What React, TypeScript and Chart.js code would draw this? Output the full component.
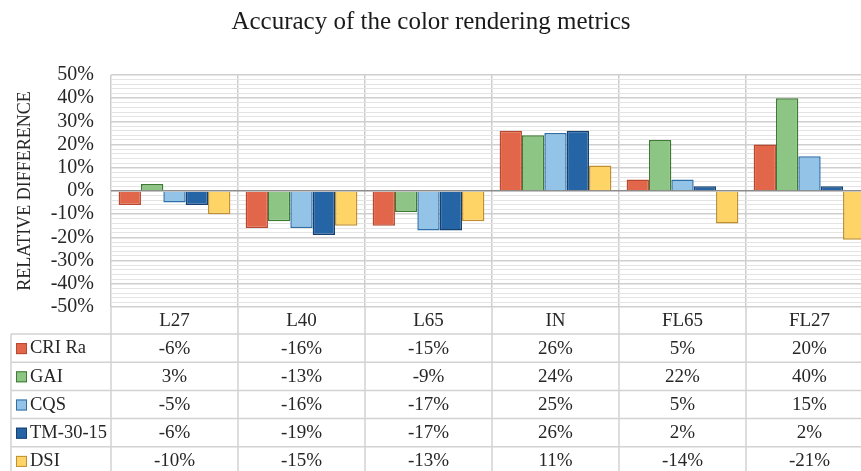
import React, { useEffect, useRef } from "react";
import { Chart, registerables } from "chart.js";

Chart.register(...registerables);

const TITLE = "Accuracy of the color rendering metrics";
const Y_TITLE = "RELATIVE DIFFERENCE";
const CATEGORIES = ["L27", "L40", "L65", "IN", "FL65", "FL27"];
const SERIES_NAMES = ["CRI Ra", "GAI", "CQS", "TM-30-15", "DSI"];
const CRI_RA = [-6, -16, -15, 26, 5, 20];
const GAI = [3, -13, -9, 24, 22, 40];
const CQS = [-5, -16, -17, 25, 5, 15];
const TM_30_15 = [-6, -19, -17, 26, 2, 2];
const DSI = [-10, -15, -13, 11, -14, -21];
const SERIES_VALUES = [CRI_RA, GAI, CQS, TM_30_15, DSI];
const FILLS = ["#E2674A", "#8CC584", "#93C3E6", "#2565A6", "#FFD466"];
const BORDERS = ["#B8482F", "#3D7A32", "#2F6FA8", "#17406E", "#C09030"];
const Y_MIN = -50;
const Y_MAX = 50;

const FONT_FAMILY = "'Liberation Serif', 'Times New Roman', serif";
const TEXT = "#262626";

const tablePlugin = {
  id: "dataTable",
  afterDraw(chart: any) {
    const { ctx, chartArea, scales } = chart;
    const x = scales.x;
    const n = CATEGORIES.length;
    const cw = x.getPixelForValue(1) - x.getPixelForValue(0);
    const top = chartArea.bottom;
    const headerH = 27;
    const rowH = 28.2;
    const legendLeft = 11;
    const bodyTop = top + headerH;
    const tableBottom = bodyTop + rowH * SERIES_NAMES.length;
    ctx.save();
    ctx.strokeStyle = "#d2d2d2";
    ctx.lineWidth = 1.5;
    for (let i = 0; i <= n; i++) {
      const px = x.getPixelForValue(i) - cw / 2;
      ctx.beginPath();
      ctx.moveTo(px, top);
      ctx.lineTo(px, tableBottom);
      ctx.stroke();
    }
    ctx.beginPath();
    ctx.moveTo(legendLeft, bodyTop);
    ctx.lineTo(legendLeft, tableBottom);
    ctx.stroke();
    for (let k = 0; k <= SERIES_NAMES.length; k++) {
      const py = bodyTop + k * rowH;
      ctx.beginPath();
      ctx.moveTo(legendLeft, py);
      ctx.lineTo(chartArea.right, py);
      ctx.stroke();
    }
    ctx.fillStyle = TEXT;
    ctx.font = `19px ${FONT_FAMILY}`;
    ctx.textAlign = "center";
    ctx.textBaseline = "middle";
    CATEGORIES.forEach((c, i) => {
      ctx.fillText(c, x.getPixelForValue(i), top + headerH / 2 + 1);
    });
    SERIES_NAMES.forEach((name, r) => {
      const cy = bodyTop + r * rowH + rowH / 2 + 0.5;
      ctx.fillStyle = FILLS[r];
      ctx.fillRect(16, cy - 5.5, 11, 11);
      ctx.strokeStyle = BORDERS[r];
      ctx.lineWidth = 1;
      ctx.strokeRect(16.5, cy - 5, 10, 10);
      ctx.fillStyle = TEXT;
      ctx.textAlign = "left";
      ctx.font = `18.5px ${FONT_FAMILY}`;
      ctx.fillText(name, 30, cy);
      ctx.textAlign = "center";
      ctx.font = `19px ${FONT_FAMILY}`;
      SERIES_VALUES[r].forEach((v, i) => {
        ctx.fillText(`${v}%`, x.getPixelForValue(i), cy);
      });
    });
    ctx.font = `25px ${FONT_FAMILY}`;
    ctx.fillStyle = "#1a1a1a";
    ctx.textAlign = "center";
    ctx.fillText(TITLE, 431, 22);
    ctx.restore();
  },
};

export default function App() {
  const ref = useRef<HTMLCanvasElement | null>(null);
  useEffect(() => {
    if (!ref.current) return;
    const chart = new Chart(ref.current, {
      type: "bar",
      data: {
        labels: CATEGORIES,
        datasets: SERIES_NAMES.map((name, i) => ({
          label: name,
          data: SERIES_VALUES[i],
          backgroundColor: FILLS[i],
          borderColor: BORDERS[i],
          borderWidth: 1.5,
          categoryPercentage: 0.88,
          barPercentage: 1.0,
        })),
      },
      options: {
        responsive: false,
        animation: false,
        devicePixelRatio: 1,
        layout: { padding: { top: 75, bottom: 164, left: 0, right: 7 } },
        plugins: {
          legend: { display: false },
          tooltip: { enabled: false },
          title: { display: false },
        },
        scales: {
          x: {
            grid: { color: "#cdcdcd", lineWidth: 1.5, drawTicks: false, offset: true },
            ticks: { display: false },
            border: { display: false },
            afterFit: (s: any) => {
              s.height = 0;
            },
          },
          y: {
            min: Y_MIN,
            max: Y_MAX,
            ticks: {
              stepSize: 2,
              autoSkip: false,
              padding: 17,
              color: TEXT,
              font: { family: FONT_FAMILY, size: 20 },
              callback: (v: any) => (Number(v) % 10 === 0 ? `${v}%` : ""),
            },
            grid: {
              drawTicks: false,
              color: (c: any) => {
                const v = c.tick ? c.tick.value : 1;
                if (v === 0) return "#8c8c8c";
                if (v % 10 === 0) return "#cfcfcf";
                return "#e4e4e4";
              },
              lineWidth: (c: any) => {
                const v = c.tick ? c.tick.value : 1;
                if (v === 0) return 1.5;
                if (v % 10 === 0) return 1.5;
                return 1;
              },
            },
            border: { display: false },
            title: {
              display: true,
              text: Y_TITLE,
              color: TEXT,
              font: { family: FONT_FAMILY, size: 18 },
              padding: { top: 14, bottom: 0 },
            },
            afterFit: (s: any) => {
              s.width = 111;
            },
          },
        },
      },
      plugins: [tablePlugin],
    });
    return () => chart.destroy();
  }, []);
  return (
    <div
      style={{
        position: "absolute",
        left: 0,
        top: 0,
        width: 861,
        height: 471,
        overflow: "hidden",
        background: "#fff",
      }}
    >
      <canvas ref={ref} width={880} height={471} style={{ display: "block" }} />
    </div>
  );
}
